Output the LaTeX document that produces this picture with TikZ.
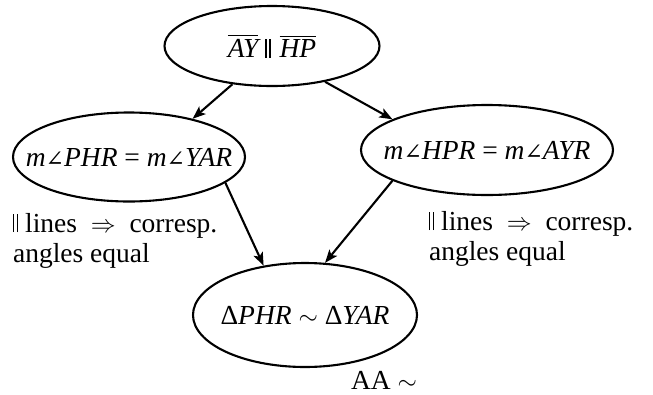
\documentclass[tikz,border=0pt]{standalone}
\usepackage{amsmath}
\usepackage{fontspec}
\setmainfont{Liberation Serif}
\newfontfamily\symfont{DejaVu Serif}
\usetikzlibrary{shapes.geometric,arrows.meta}

\newcommand{\mang}[1]{\textit{m}{\symfont\fontsize{22}{22}\selectfont ∠}\textit{#1}}
\newcommand{\seg}[1]{$\overline{\textit{#1}\vphantom{A}}$}
\newcommand{\pll}{\rule{1.3pt}{0.66em}\hspace{2.6pt}\rule{1.3pt}{0.66em}}

\begin{document}
\begin{tikzpicture}[x=1pt, y=-1pt, line width=2.1pt,
    font=\fontsize{27.5}{30.5}\selectfont,
    oval/.style={ellipse, draw, inner xsep=-50pt, inner ysep=0pt},
    note/.style={anchor=north west, inner sep=0pt, align=left},
    >={Stealth[length=13pt, width=10pt, inset=3pt]}]
\useasboundingbox (0,0) rectangle (653,394);
\node[oval, minimum width=215pt, minimum height=80pt] (par) at (272,46)
    {\seg{AY}\hspace{7pt}\pll\hspace{9pt}\seg{HP}};
\node[oval, minimum width=232pt, minimum height=89pt] (left) at (129,157)
    {\mang{PHR} = \mang{YAR}};
\node[oval, minimum width=252pt, minimum height=90pt] (right) at (487,150)
    {\mang{HPR} = \mang{AYR}};
\node[oval, minimum width=224pt, minimum height=104pt] (sim) at (305,315)
    {Δ\textit{PHR} $\sim$ Δ\textit{YAR}};
% reasons
\node[note] (why1) at (12,212) {\pll{} lines $\;\Rightarrow\;$ corresp.\\angles equal};
\node[note] (why2) at (428,210) {\pll{} lines $\;\Rightarrow\;$ corresp.\\angles equal};
\node[anchor=base west, inner sep=0pt] (why3) at (350,389) {AA $\sim$};
% arrows
\draw[->] (par.224) -- (left.31);
\draw[->] (par.326) -- (right.162);
\draw[->] (left.345) -- (sim.130);
\draw[->] (right.198) -- (sim.69);
\end{tikzpicture}
\end{document}
